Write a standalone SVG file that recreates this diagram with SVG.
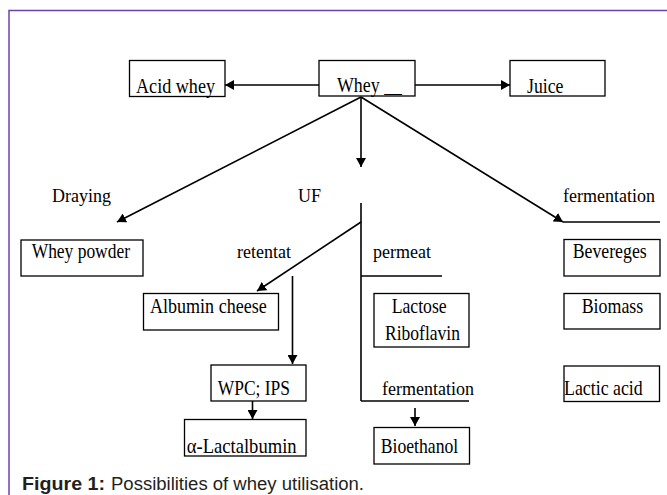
<svg xmlns="http://www.w3.org/2000/svg" width="667" height="495" viewBox="0 0 667 495">
<style>
.box{fill:#fff;stroke:#000;stroke-width:1.3}
.bt{font-family:"Liberation Serif","Times New Roman",serif;font-size:22px;fill:#000}
.lb{font-family:"Liberation Serif","Times New Roman",serif;font-size:18px;fill:#000}
.ln{fill:none;stroke:#000;stroke-width:1.6}
.cap{font-family:"Liberation Sans",Arial,sans-serif;font-size:18px;fill:#231f20}
</style>
<defs>
<marker id="ah" viewBox="0 0 10 10" refX="10" refY="5" markerWidth="9" markerHeight="10" markerUnits="userSpaceOnUse" orient="auto" preserveAspectRatio="none">
<path d="M0,0 L10,5 L0,10 z" fill="#000"/>
</marker>
</defs>
<rect width="667" height="495" fill="#fff"/>
<path d="M9,495 L9,10.5 L667,10.5" fill="none" stroke="#7040a8" stroke-width="1.5"/>

<g id="connectors">
<line class="ln" x1="319" y1="85" x2="225" y2="85" marker-end="url(#ah)"/>
<line class="ln" x1="415" y1="85" x2="510" y2="85" marker-end="url(#ah)"/>
<line class="ln" x1="361" y1="97" x2="361" y2="167" marker-end="url(#ah)"/>
<line class="ln" x1="361" y1="97" x2="117" y2="222" marker-end="url(#ah)"/>
<line class="ln" x1="361" y1="97" x2="563" y2="222" marker-end="url(#ah)"/>
<line class="ln" x1="563" y1="222" x2="660" y2="222"/>
<line class="ln" x1="361" y1="203" x2="361" y2="401"/>
<line class="ln" x1="361" y1="222" x2="257" y2="291" marker-end="url(#ah)"/>
<line class="ln" x1="361" y1="276" x2="442" y2="276"/>
<line class="ln" x1="292.5" y1="276" x2="292.5" y2="364" marker-end="url(#ah)"/>
<line class="ln" x1="361" y1="401" x2="469" y2="401"/>
<line class="ln" x1="415" y1="408" x2="415" y2="426" marker-end="url(#ah)"/>
<line class="ln" x1="252.5" y1="401" x2="252.5" y2="419" marker-end="url(#ah)"/>
</g>

<g id="labels">
<text class="lb" x="52" y="202">Draying</text>
<text class="lb" x="298" y="202">UF</text>
<text class="lb" x="563" y="202">fermentation</text>
<text class="lb" x="237" y="258">retentat</text>
<text class="lb" x="373" y="258">permeat</text>
<text class="lb" x="382" y="395">fermentation</text>
</g>

<g id="acid-whey"><rect class="box" x="129.5" y="60.5" width="95.5" height="36"/><text class="bt" x="136" y="93" textLength="79" lengthAdjust="spacingAndGlyphs">Acid whey</text></g>
<g id="whey"><rect class="box" x="319" y="60.5" width="96" height="35.5"/><text class="bt" x="337" y="92" textLength="65" lengthAdjust="spacingAndGlyphs">Whey __</text></g>
<g id="juice"><rect class="box" x="510" y="60.5" width="95" height="35.5"/><text class="bt" x="527" y="92.5" textLength="36.5" lengthAdjust="spacingAndGlyphs">Juice</text></g>
<g id="whey-powder"><rect class="box" x="21" y="240" width="122" height="36"/><text class="bt" x="31.7" y="258.3" textLength="98.3" lengthAdjust="spacingAndGlyphs">Whey powder</text></g>
<g id="albumin-cheese"><rect class="box" x="143.5" y="293.5" width="135" height="36.5"/><text class="bt" x="150" y="313.3" textLength="116.7" lengthAdjust="spacingAndGlyphs">Albumin cheese</text></g>
<g id="bevereges"><rect class="box" x="564" y="239.5" width="96" height="36.5"/><text class="bt" x="572.7" y="258.3" textLength="74" lengthAdjust="spacingAndGlyphs">Bevereges</text></g>
<g id="biomass"><rect class="box" x="564" y="293.5" width="96" height="35.5"/><text class="bt" x="581.7" y="313.3" textLength="61.6" lengthAdjust="spacingAndGlyphs">Biomass</text></g>
<g id="lactose-riboflavin"><rect class="box" x="374" y="293.5" width="95" height="53.5"/><text class="bt" x="391.7" y="313.3" textLength="55" lengthAdjust="spacingAndGlyphs">Lactose</text><text class="bt" x="385" y="340" textLength="75" lengthAdjust="spacingAndGlyphs">Riboflavin</text></g>
<g id="wpc-ips"><rect class="box" x="211" y="365" width="95" height="36"/><text class="bt" x="217.7" y="395" textLength="72.3" lengthAdjust="spacingAndGlyphs">WPC; IPS</text></g>
<g id="lactalbumin"><rect class="box" x="184.5" y="419.5" width="121.5" height="36.5"/><text class="bt" x="186.7" y="453" textLength="110" lengthAdjust="spacingAndGlyphs">α-Lactalbumin</text></g>
<g id="lactic-acid"><rect class="box" x="564" y="366" width="95.5" height="35.5"/><text class="bt" x="564" y="395" textLength="78.7" lengthAdjust="spacingAndGlyphs">Lactic acid</text></g>
<g id="bioethanol"><rect class="box" x="374" y="427.5" width="95.5" height="36.5"/><text class="bt" x="380.7" y="453.3" textLength="77.6" lengthAdjust="spacingAndGlyphs">Bioethanol</text></g>

<text class="cap" x="22" y="490" font-weight="bold" textLength="83" lengthAdjust="spacingAndGlyphs">Figure 1:</text>
<text class="cap" x="111" y="490" textLength="253" lengthAdjust="spacingAndGlyphs">Possibilities of whey utilisation.</text>
</svg>
